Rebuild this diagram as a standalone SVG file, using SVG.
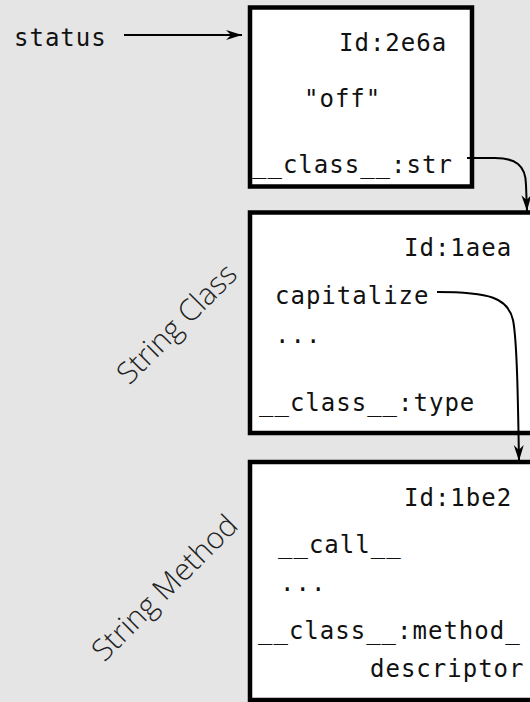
<svg xmlns="http://www.w3.org/2000/svg" width="530" height="702" viewBox="0 0 530 702">
  <style>
    .bg { fill: #e5e5e5; }
    .box { fill: #ffffff; stroke: #000000; stroke-width: 4.5; }
    .mono { font-family: "DejaVu Sans Mono", "Liberation Mono", monospace; font-size: 24px; letter-spacing: 1px; fill: #111111; }
    .label { font-family: "Open Sans", "Noto Sans", sans-serif; font-weight: 300; font-size: 30px; fill: #222222; }
    .conn { fill: none; stroke: #000000; stroke-width: 2; }
  </style>
  <defs>
    <marker id="arrow" markerUnits="userSpaceOnUse" markerWidth="20" markerHeight="12" viewBox="-18 -6 20 12" refX="0" refY="0" orient="auto">
      <path d="M0,0 L-16,-5 L-11,0 L-16,5 Z" fill="#000000"/>
    </marker>
  </defs>
  <rect class="bg" x="0" y="0" width="530" height="702"/>

  <g id="var-status">
    <text class="mono" x="14" y="46">status</text>
  </g>

  <g id="node-2e6a">
    <rect class="box" x="250" y="7.5" width="222" height="179"/>
    <text class="mono" x="339" y="51">Id:2e6a</text>
    <text class="mono" x="304" y="107">"off"</text>
    <text class="mono" x="252" y="173">__class__:str</text>
  </g>

  <g id="node-1aea">
    <rect class="box" x="250" y="212.5" width="300" height="220.5"/>
    <text class="mono" x="404" y="256">Id:1aea</text>
    <text class="mono" x="275" y="304">capitalize</text>
    <text class="mono" x="275" y="343">...</text>
    <text class="mono" x="259" y="411">__class__:type</text>
    <text class="label" text-anchor="middle" transform="translate(184,331) rotate(-45)">String Class</text>
  </g>

  <g id="node-1be2">
    <rect class="box" x="250" y="462" width="300" height="238"/>
    <text class="mono" x="404" y="506">Id:1be2</text>
    <text class="mono" x="278" y="553">__call__</text>
    <text class="mono" x="280" y="591">...</text>
    <text class="mono" x="258" y="639">__class__:method_</text>
    <text class="mono" x="370" y="677">descriptor</text>
    <text class="label" text-anchor="middle" transform="translate(172,595) rotate(-45)">String Method</text>
  </g>

  <g id="connectors">
    <path class="conn" d="M467,158 L495,158 C515,158 526,165 526,185 L527,211" marker-end="url(#arrow)"/>
    <path class="conn" d="M124,35 L242,35" marker-end="url(#arrow)"/>
    <path class="conn" d="M437,292 C490,292 508,298 513,320 C517,340 518,400 519,461" marker-end="url(#arrow)"/>
  </g>
</svg>
